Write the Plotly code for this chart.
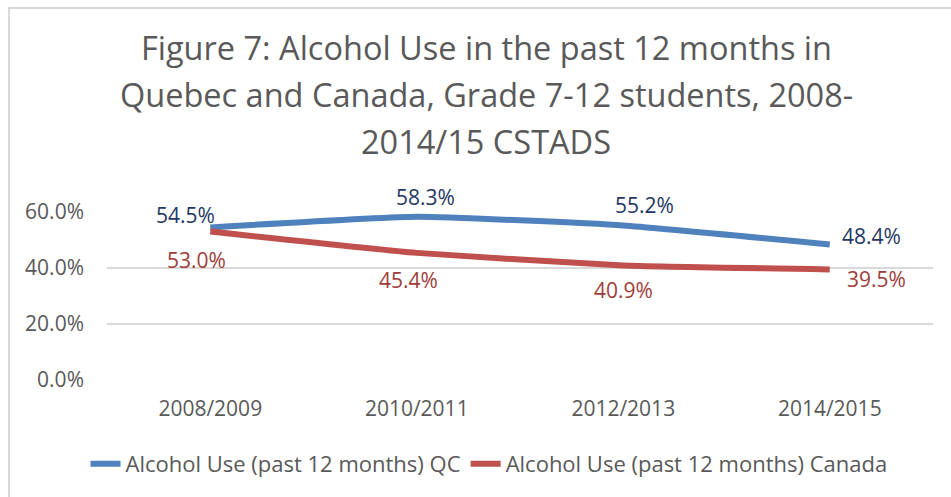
import plotly.graph_objects as go

years = ["2008/2009", "2010/2011", "2012/2013", "2014/2015"]
qc_values = [0.545, 0.583, 0.552, 0.484]
canada_values = [0.530, 0.454, 0.409, 0.395]
qc_name = "Alcohol Use (past 12 months) QC"
canada_name = "Alcohol Use (past 12 months) Canada"
y_ticks = [0, 0.2, 0.4, 0.6]
title_lines = ["Figure 7: Alcohol Use in the past 12 months in",
               "Quebec and Canada, Grade 7-12 students, 2008-",
               "2014/15 CSTADS"]

FONT = "'Open Sans', Lato, sans-serif"
QC_COLOR = "#4F81BD"
CA_COLOR = "#C0504D"
QC_LABEL = "#1F3864"
CA_LABEL = "#A03D3A"
GREY = "#595959"

fig = go.Figure()
fig.add_trace(go.Scatter(x=years, y=qc_values, name=qc_name, mode="lines",
                         line=dict(color=QC_COLOR, width=6, shape="spline", smoothing=0.4)))
fig.add_trace(go.Scatter(x=years, y=canada_values, name=canada_name, mode="lines",
                         line=dict(color=CA_COLOR, width=6, shape="spline", smoothing=0.4)))

# data labels (offsets mimic the reference placement)
qc_off = [(-25, 12), (9, 20), (21, 20), (42, 8)]
ca_off = [(-14, -28), (-8, -27), (0, -25), (47, -10)]
for x, v, (dx, dy) in zip(years, qc_values, qc_off):
    fig.add_annotation(x=x, y=v, text=f"{v*100:.1f}%", showarrow=False,
                       xshift=dx, yshift=dy, font=dict(family=FONT, size=21, color=QC_LABEL))
for x, v, (dx, dy) in zip(years, canada_values, ca_off):
    fig.add_annotation(x=x, y=v, text=f"{v*100:.1f}%", showarrow=False,
                       xshift=dx, yshift=dy, font=dict(family=FONT, size=21, color=CA_LABEL))

# title lines
for i, line in enumerate(title_lines):
    fig.add_annotation(xref="paper", yref="paper", x=(486 - 107) / 826,
                       y=(380 - (47 + 47 * i)) / 168, text=line, showarrow=False,
                       xanchor="center", yanchor="middle",
                       font=dict(family=FONT, size=32.5, color=GREY))

# chart frame (partly visible)
fig.add_shape(type="rect", xref="paper", yref="paper",
              x0=(9 - 107) / 826, x1=1.2, y0=(380 - 8) / 168, y1=-1.5,
              line=dict(color="#D9D9D9", width=2), fillcolor="rgba(0,0,0,0)", layer="below")

fig.update_layout(
    width=951, height=497,
    margin=dict(l=107, r=18, t=212, b=117, autoexpand=False),
    paper_bgcolor="white", plot_bgcolor="white",
    showlegend=True,
    legend=dict(orientation="h", x=489 / 951, xanchor="center", xref="container",
                y=1 - 464 / 497, yanchor="middle", yref="container",
                font=dict(family=FONT, size=22, color=GREY)),
    font=dict(family=FONT, color=GREY),
)
fig.update_xaxes(showgrid=False, showline=False, ticks="", tickfont=dict(size=21, color=GREY),
                 range=[-0.5, 3.5], fixedrange=True, ticklabelstandoff=14)
fig.update_yaxes(range=[0, 0.6], tickvals=y_ticks, tickformat=".1%", showgrid=True,
                 gridcolor="#D9D9D9", gridwidth=2, zeroline=False, showline=False,
                 tickfont=dict(size=21, color=GREY), ticklabelstandoff=22)

fig.write_html("out.html", config={"displayModeBar": False},
               post_script="document.body.style.margin='0';")
